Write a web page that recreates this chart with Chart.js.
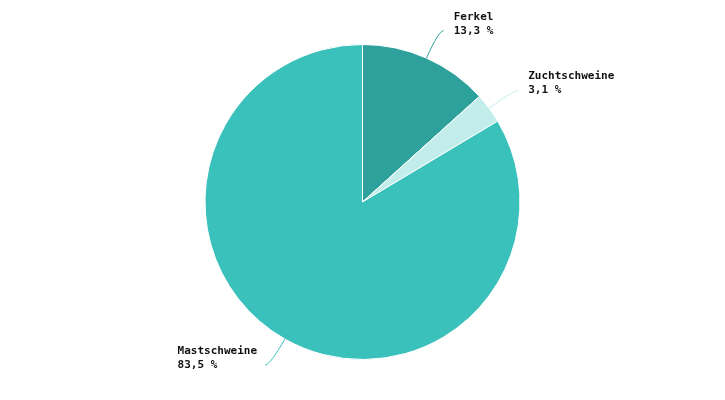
<!DOCTYPE html>
<html>
<head>
<meta charset="utf-8">
<script src="https://cdn.jsdelivr.net/npm/chart.js@4"></script>
<style>
  html, body { margin: 0; padding: 0; background: #fff; }
  #wrap { width: 725px; height: 400px; position: relative; }
</style>
</head>
<body>
<div id="wrap"><canvas id="pieChart"></canvas></div>
<script>
// === DATA ===
var LABELS = ['Ferkel', 'Zuchtschweine', 'Mastschweine'];
var VALUES = [13.3, 3.1, 83.5];
var COLORS = ['#2fa19c', '#c3edeb', '#3bc1bc'];

(function () {
  'use strict';

  var FONT = 'bold 11px "DejaVu Sans Mono", monospace';

  function fmt(v) {
    return v.toFixed(1).replace('.', ',') + ' %';
  }

  // connector curves + two-line labels outside the slices
  var outsideLabels = {
    id: 'outsideLabels',
    afterDatasetsDraw: function (chart) {
      var ctx  = chart.ctx;
      var meta = chart.getDatasetMeta(0);
      ctx.save();
      ctx.font = FONT;
      ctx.textBaseline = 'middle';
      meta.data.forEach(function (arc, i) {
        var p   = arc.getProps(['x', 'y', 'startAngle', 'endAngle', 'outerRadius'], true);
        var mid = (p.startAngle + p.endAngle) / 2;
        var cos = Math.cos(mid), sin = Math.sin(mid);
        var side = cos >= 0 ? 1 : -1;

        var x0 = p.x + p.outerRadius * cos;
        var y0 = p.y + p.outerRadius * sin;
        var cx = p.x + (p.outerRadius + 30) * cos;
        var cy = p.y + (p.outerRadius + 30) * sin;
        var x1 = cx + side * 5;
        var y1 = cy;

        ctx.strokeStyle = COLORS[i];
        ctx.lineWidth = 1;
        ctx.beginPath();
        ctx.moveTo(x0, y0);
        ctx.quadraticCurveTo(cx, cy, x1, y1);
        ctx.stroke();

        var l1 = LABELS[i], l2 = fmt(VALUES[i]);
        var w  = Math.max(ctx.measureText(l1).width, ctx.measureText(l2).width);
        var tx = side > 0 ? x1 + 10 : x1 - 8 - w;
        ctx.fillStyle = '#111';
        ctx.textAlign = 'left';
        ctx.fillText(l1, tx, y1 - 14);
        ctx.fillText(l2, tx, y1);
      });
      ctx.restore();
    }
  };

  new Chart(document.getElementById('pieChart'), {
    type: 'pie',
    data: {
      labels: LABELS,
      datasets: [{
        data:            VALUES,
        backgroundColor: COLORS,
        borderColor:     '#ffffff',
        borderWidth:     1,
      }],
    },
    options: {
      responsive:          true,
      maintainAspectRatio: false,
      animation:           false,
      layout: { padding: { top: 44, bottom: 40, left: 0, right: 0 } },
      plugins: {
        legend:  { display: false },
        tooltip: { enabled: false },
      },
    },
    plugins: [outsideLabels],
  });
}());
</script>
</body>
</html>
